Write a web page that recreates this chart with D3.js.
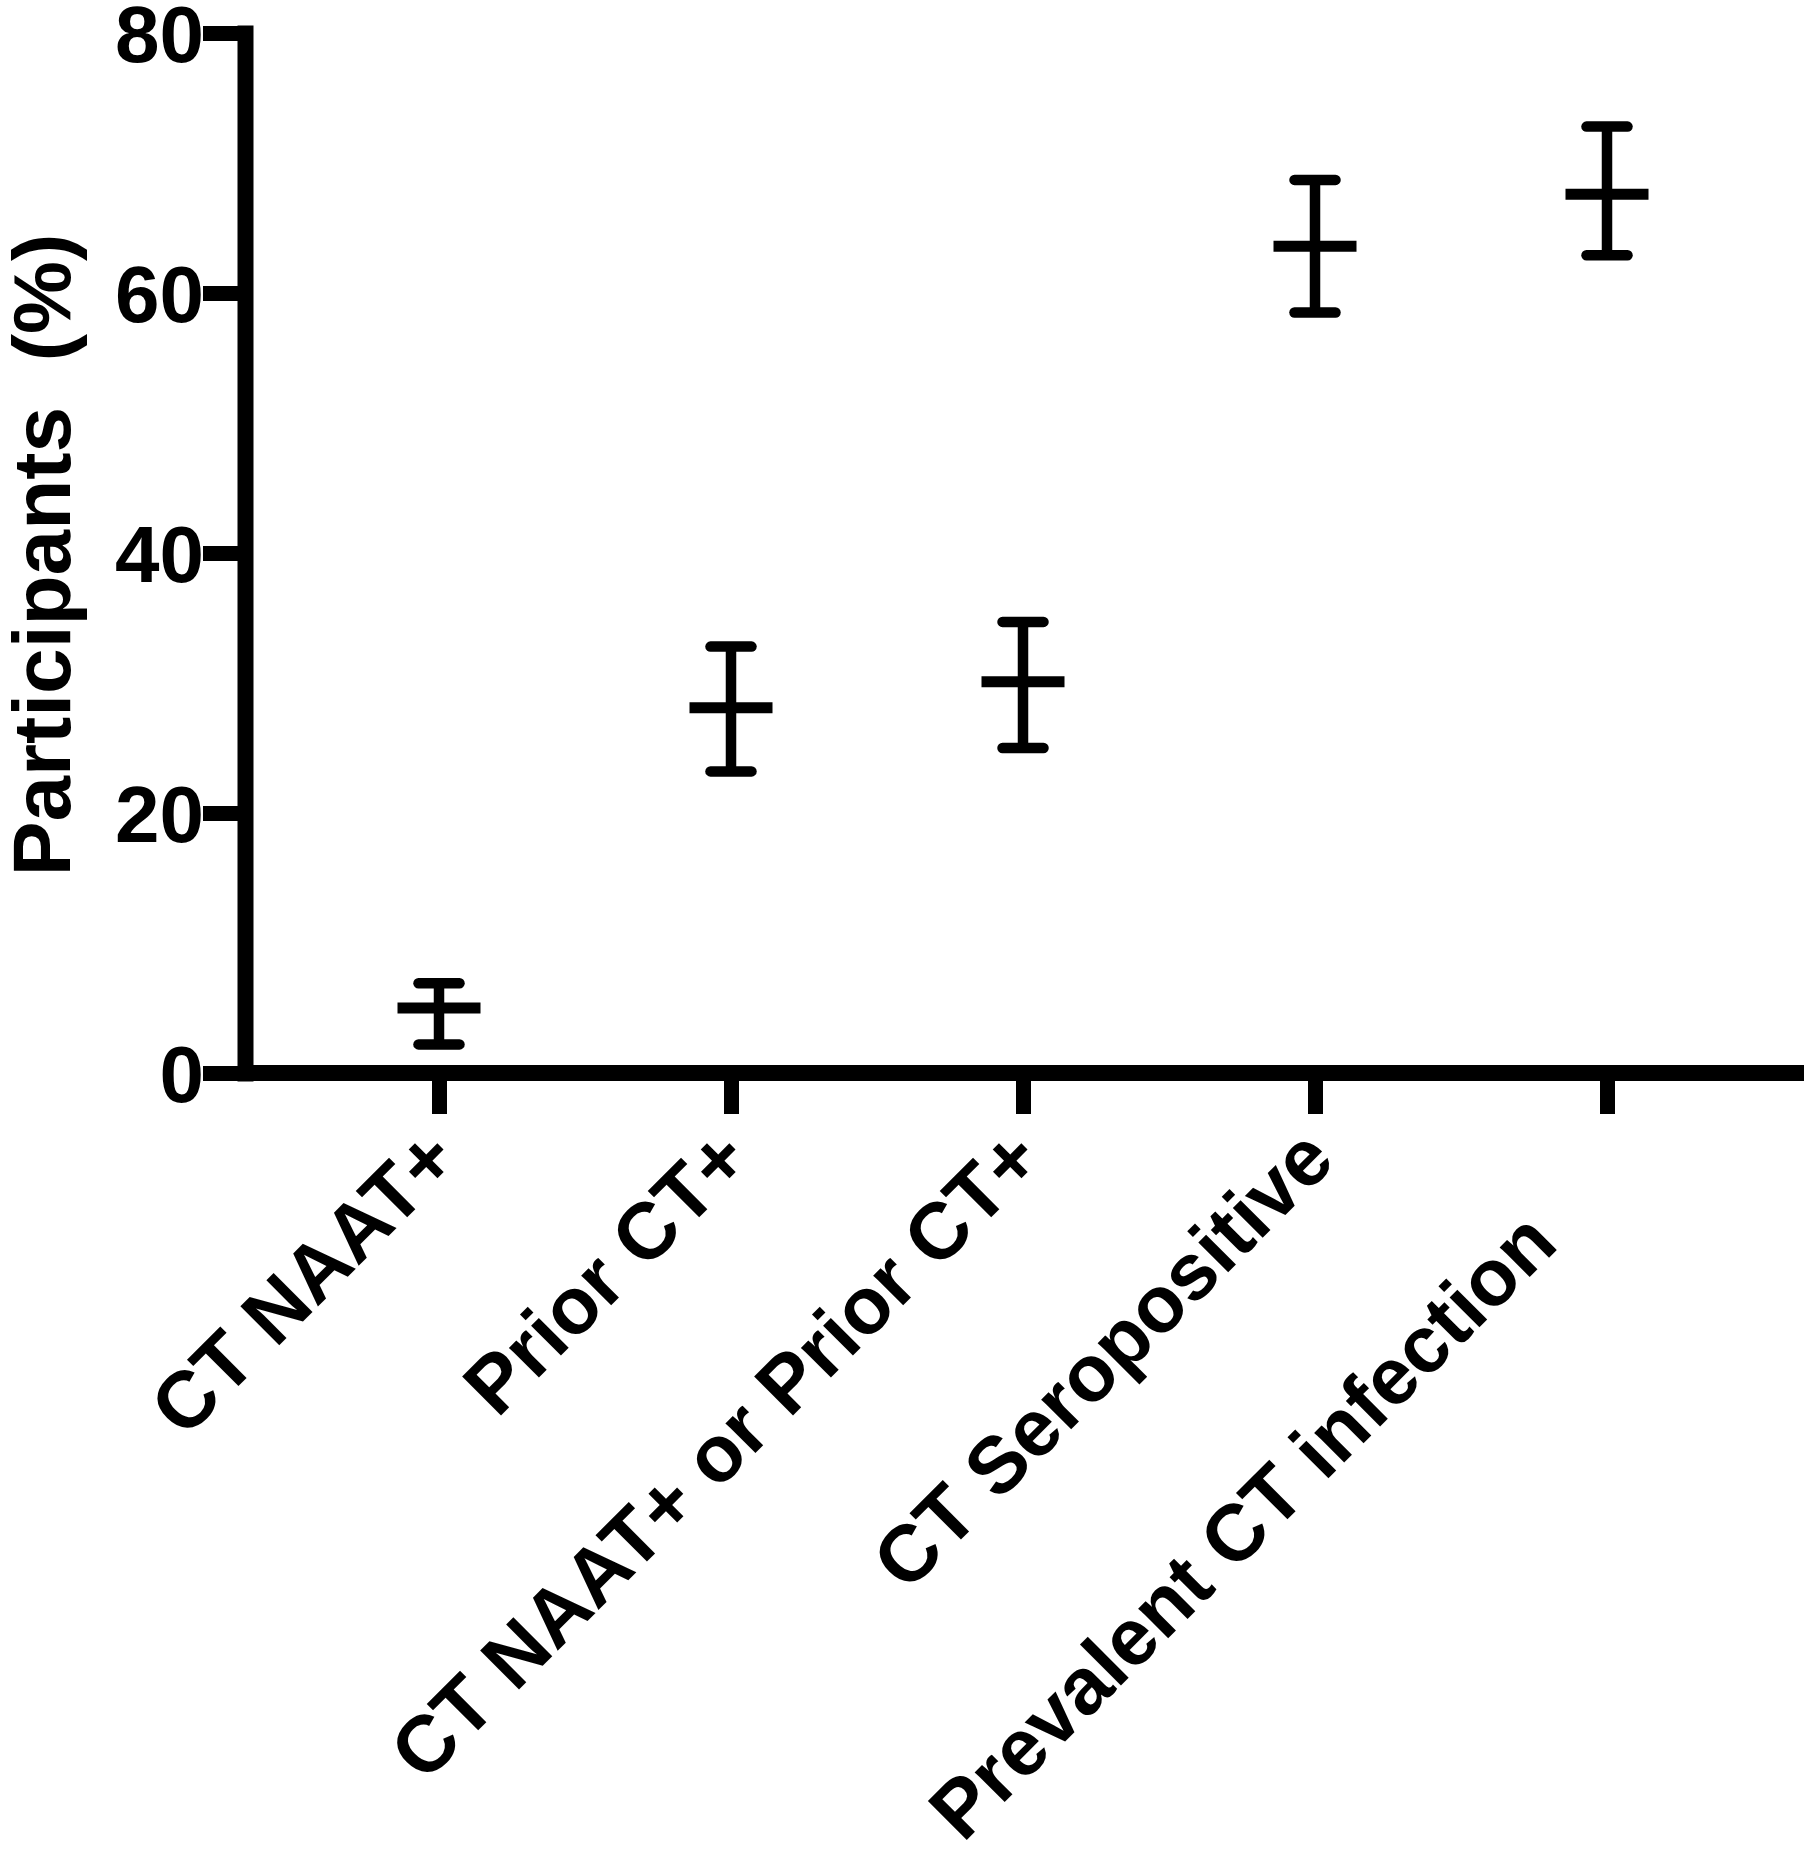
<!DOCTYPE html>
<html>
<head>
<meta charset="utf-8">
<script src="https://cdn.jsdelivr.net/npm/d3@7"></script>
<style>
  body { margin: 0; background: #fff; }
  svg { display: block; }
  text { font-family: "Liberation Sans", Arial, sans-serif; font-weight: bold; fill: #000; }
</style>
</head>
<body>
<div id="chart"></div>
<script>
// values (percent of participants, with 95% CI)
const categories = ['CT NAAT+', 'Prior CT+', 'CT NAAT+ or Prior CT+', 'CT Seropositive', 'Prevalent CT infection']
const means = [5.0, 28.1, 30.1, 63.6, 67.6]
const lower = [2.2, 23.2, 25.0, 58.5, 62.9]
const upper = [6.9, 32.8, 34.7, 68.7, 72.8]
const yTicks = [0, 20, 40, 60, 80]

const data = categories.map((c, i) => ({ cat: c, mean: means[i], lo: lower[i], hi: upper[i] }))

const width = 1810, height = 1867
const axisX = 245, axisRight = 1804

const svg = d3.select('#chart').append('svg')
  .attr('width', width)
  .attr('height', height)

const y = d3.scaleLinear()
  .domain([0, 80])
  .range([1073, 33])

const x = d3.scalePoint()
  .domain(categories)
  .range([439, 1607])

// x axis line
svg.append('line')
  .attr('x1', axisX)
  .attr('x2', axisRight)
  .attr('y1', y(0))
  .attr('y2', y(0))
  .attr('stroke', '#000')
  .attr('stroke-width', 16)

// y axis
const yAxis = svg.append('g')
  .attr('transform', `translate(${axisX},0)`)
  .call(d3.axisLeft(y).tickValues(yTicks).tickSize(42).tickSizeOuter(0).tickPadding(-1))
yAxis.select('.domain')
  .attr('stroke-width', 16)
  .attr('stroke-linecap', 'square')
yAxis.selectAll('.tick line')
  .attr('stroke-width', 15)
yAxis.selectAll('.tick text')
  .attr('dy', '0.36em')
  .style('font-size', '80px')

// x axis ticks + labels
const xAxis = svg.append('g')
  .attr('transform', `translate(0,${y(0)})`)
  .call(d3.axisBottom(x).tickSize(41).tickSizeOuter(0))
xAxis.select('.domain').remove()
xAxis.selectAll('.tick line')
  .attr('stroke-width', 15)
xAxis.selectAll('.tick text')
  .attr('text-anchor', 'end')
  .attr('x', (d, i) => i === categories.length - 1 ? -108 : 0) // last label sits further down in the original
  .attr('y', (d, i) => i === categories.length - 1 ? 10 : 0)
  .attr('dy', 0)
  .attr('transform', 'translate(22,90) rotate(-45)')
  .style('font-size', '80px')

// error bars
const bars = svg.append('g').selectAll('g')
  .data(data)
  .enter()
  .append('g')

bars.append('line')
  .attr('x1', d => x(d.cat))
  .attr('x2', d => x(d.cat))
  .attr('y1', d => y(d.hi))
  .attr('y2', d => y(d.lo))
  .attr('stroke', '#000')
  .attr('stroke-width', 10.5)

bars.selectAll('.cap')
  .data(d => [{ cat: d.cat, v: d.hi }, { cat: d.cat, v: d.lo }])
  .enter()
  .append('line')
  .attr('class', 'cap')
  .attr('x1', d => x(d.cat) - 20.5)
  .attr('x2', d => x(d.cat) + 20.5)
  .attr('y1', d => y(d.v))
  .attr('y2', d => y(d.v))
  .attr('stroke', '#000')
  .attr('stroke-width', 10.5)
  .attr('stroke-linecap', 'round')

bars.append('line')
  .attr('x1', d => x(d.cat) - 41.5)
  .attr('x2', d => x(d.cat) + 41.5)
  .attr('y1', d => y(d.mean))
  .attr('y2', d => y(d.mean))
  .attr('stroke', '#000')
  .attr('stroke-width', 11)

// y axis title
svg.append('text')
  .attr('transform', 'translate(70,555) rotate(-90)')
  .attr('text-anchor', 'middle')
  .style('font-size', '82px')
  .style('white-space', 'pre')
  .text('Participants  (%)')
</script>
</body>
</html>
